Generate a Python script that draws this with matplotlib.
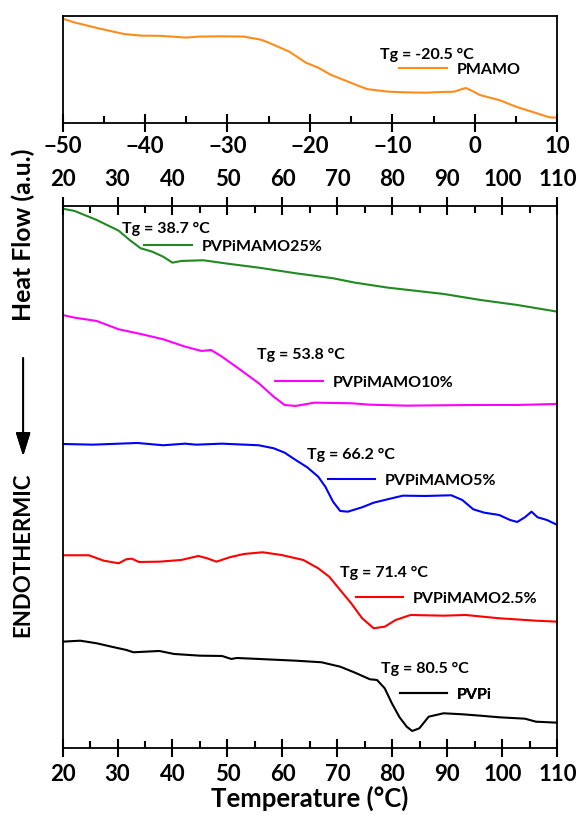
import matplotlib
matplotlib.use('Agg')
import matplotlib.pyplot as plt
from matplotlib.ticker import MultipleLocator

plt.rcParams['font.family'] = ['Lato', 'DejaVu Sans']
plt.rcParams['font.weight'] = 'bold'

# PMAMO (top panel), temperature in degC, heat flow in a.u.
pmamo_t = [-50, -48.5, -45.5, -42.5, -40.5, -38, -35, -33.5, -30.5, -28, -26, -25.3,
           -22.5, -20.5, -19, -17.5, -14, -13, -10.5, -8, -6, -4, -2.5, -1.8, -1.1,
           -0.3, 0.6, 3, 5, 7.3, 9, 10]
pmamo_hf = [10.4, 10.0, 9.4, 8.85, 8.7, 8.67, 8.5, 8.6, 8.63, 8.6, 8.3, 8.1,
            7.1, 6.0, 5.5, 4.8, 3.65, 3.35, 3.1, 3.03, 3.0, 3.07, 3.1, 3.3, 3.47,
            3.17, 2.77, 2.25, 1.6, 1.0, 0.55, 0.5]

# main panel series
p25_t = [20, 22.2, 26.2, 30.2, 32.2, 34.2, 36.3, 38.3, 40, 41.6, 45.6, 50.4, 55.7,
         62.4, 69.2, 73.2, 79.2, 89.3, 96, 102.7, 110]
p25_hf = [53.9, 53.67, 52.77, 51.7, 50.77, 49.94, 49.6, 49.1, 48.5, 48.67, 48.74,
          48.37, 48.0, 47.44, 46.94, 46.5, 46.0, 45.37, 44.77, 44.27, 43.6]

p10_t = [20, 22.2, 26.2, 30.2, 34.2, 38.3, 42.3, 45.3, 47, 49, 52.4, 55.7, 58.4,
         60.4, 62.4, 65.8, 72.5, 75.9, 82.6, 89.3, 96, 102.7, 110]
p10_hf = [43.27, 43.0, 42.67, 41.84, 41.37, 40.84, 40.1, 39.67, 39.77, 39.1, 37.77,
          36.44, 35.1, 34.27, 34.17, 34.5, 34.44, 34.3, 34.2, 34.24, 34.27, 34.27, 34.37]

p5_t = [20, 25.5, 28.9, 33.6, 38.3, 42.3, 44.3, 49, 55.7, 58.4, 60.4, 62.4, 64.5,
        66.5, 67.8, 69.2, 70.5, 71.9, 74.5, 76.6, 79.9, 81.9, 86, 90.7, 92.7, 94.7,
        96.7, 99.4, 101.4, 102.7, 104.1, 105.3, 106.4, 108.1, 110]
p5_hf = [30.37, 30.3, 30.37, 30.47, 30.24, 30.4, 30.3, 30.4, 30.24, 29.94, 29.5,
         28.77, 28.04, 27.1, 26.1, 24.6, 23.67, 23.6, 24.04, 24.5, 24.94, 25.2, 25.17,
         25.24, 24.77, 23.84, 23.5, 23.27, 22.77, 22.57, 23.04, 23.6, 23.04, 22.77, 22.27]

p25b_t = [20, 24.8, 27.5, 30.2, 31.6, 32.6, 33.9, 37.6, 41.6, 44.7, 46.3, 48, 50.4,
          53, 56.4, 59.8, 63.8, 66.5, 68.5, 70.5, 72.5, 74.5, 76.6, 78.6, 80.6, 83.3,
          89.3, 93.3, 99.4, 106.1, 110]
p25b_hf = [19.24, 19.24, 18.7, 18.44, 18.84, 18.9, 18.57, 18.6, 18.77, 19.17, 18.94,
           18.6, 19.04, 19.37, 19.54, 19.27, 18.77, 17.94, 17.1, 15.77, 14.44, 12.94,
           11.94, 12.1, 12.77, 13.27, 13.2, 13.27, 12.94, 12.7, 12.6]

pvpi_t = [20, 23.2, 26.2, 28.9, 31.6, 32.9, 37.6, 40.3, 45, 49, 50.7, 51.7, 55.7,
          62.4, 67.1, 70.5, 73.2, 75.9, 77.2, 78.6, 79.9, 81.3, 82.6, 83.6, 84.9,
          86.6, 89.3, 92.7, 96, 99.4, 104.1, 106.1, 110]
pvpi_hf = [10.6, 10.7, 10.44, 10.1, 9.77, 9.54, 9.67, 9.37, 9.2, 9.17, 8.87, 8.97,
           8.87, 8.7, 8.54, 8.1, 7.5, 6.84, 6.77, 5.94, 4.44, 3.04, 2.1, 1.67, 1.94,
           3.1, 3.44, 3.34, 3.2, 3.04, 2.9, 2.6, 2.5]

names = ['PVPiMAMO25%', 'PVPiMAMO10%', 'PVPiMAMO5%', 'PVPiMAMO2.5%', 'PVPi']
tg_labels = ['Tg = 38.7 °C', 'Tg = 53.8 °C', 'Tg = 66.2 °C', 'Tg = 71.4 °C', 'Tg = 80.5 °C']
colors = ['#208a20', '#ff00ff', '#0000ff', '#ff0000', '#000000']
series = [(p25_t, p25_hf), (p10_t, p10_hf), (p5_t, p5_hf), (p25b_t, p25b_hf), (pvpi_t, pvpi_hf)]
# label anchor positions (data coords): Tg text and legend sample
tg_pos = [(30.9, 51.9), (55.4, 39.3), (64.5, 29.3), (70.5, 17.5), (77.9, 7.9)]
leg_pos = [(34.9, 50.1), (58.6, 36.5), (68.2, 26.7), (73.3, 14.9), (81.3, 5.3)]

fig = plt.figure(figsize=(5.79, 8.15), dpi=100)
ax_top = fig.add_axes([0.108, 0.8494, 0.8546, 0.1315])
ax = fig.add_axes([0.108, 0.0826, 0.8546, 0.6647])


def style_ticks(a):
    a.xaxis.set_major_locator(MultipleLocator(10))
    a.xaxis.set_minor_locator(MultipleLocator(5))
    a.tick_params(axis='x', which='major', direction='inout', length=13, width=1.5,
                  labelsize=16)
    a.tick_params(axis='x', which='minor', direction='in', length=5, width=1.5)
    a.set_yticks([])
    for s in a.spines.values():
        s.set_linewidth(1.3)


# top panel
ax_top.plot(pmamo_t, pmamo_hf, color='#ff8c1a', lw=1.5)
ax_top.set_xlim(-50, 10)
ax_top.set_ylim(0, 10.7)
style_ticks(ax_top)
ax_top.tick_params(axis='x', which='major', pad=3)
ax_top.text(-11.5, 6.77, 'Tg = -20.5 °C', fontsize=11.5, fontweight='bold', va='center')
ln, = ax_top.plot([], [], color='#ff8c1a', lw=1.5)
ax_top.legend(handles=[ln], labels=['PMAMO'], loc='center left',
              bbox_to_anchor=(-9.2, 5.27), bbox_transform=ax_top.transData,
              frameon=False, borderpad=0, borderaxespad=0, handlelength=3.0,
              handletextpad=0.6, prop=dict(size=11.5, weight='bold'))

# main panel
for (t, hf), c, name, tg, tp, lp in zip(series, colors, names, tg_labels, tg_pos, leg_pos):
    line, = ax.plot(t, hf, color=c, lw=1.5)
    ax.text(tp[0], tp[1], tg, fontsize=11.5, fontweight='bold', va='center')
    leg = ax.legend(handles=[line], labels=[name], loc='center left',
                    bbox_to_anchor=lp, bbox_transform=ax.transData,
                    frameon=False, borderpad=0, borderaxespad=0, handlelength=3.0,
                    handletextpad=0.6, prop=dict(size=11.5, weight='bold'))
    ax.add_artist(leg)

ax.set_xlim(20, 110)
ax.set_ylim(0, 54.17)
style_ticks(ax)
ax.tick_params(axis='x', which='both', top=True, labeltop=True)
ax.tick_params(axis='x', which='major', pad=5)
ax.set_xlabel('Temperature (°C)', fontsize=18.5, fontweight='bold', labelpad=1)

# y axis caption with arrow
fig.text(0.040, 1 - 235 / 815, 'Heat Flow (a.u.)', rotation=90, fontsize=17.8,
         fontweight='bold', ha='center', va='center')
fig.text(0.040, 1 - 555 / 815, 'ENDOTHERMIC', rotation=90, fontsize=16,
         fontweight='bold', ha='center', va='center')
fig.add_artist(plt.annotate('', xy=(0.040, 1 - 456 / 815), xytext=(0.040, 1 - 358 / 815),
                            xycoords='figure fraction', textcoords='figure fraction',
                            arrowprops=dict(arrowstyle='-|>,head_length=0.8,head_width=0.25',
                                            color='black', lw=1.3, mutation_scale=18,
                                            shrinkA=0, shrinkB=0)))

fig.savefig('out.png', dpi=100)
